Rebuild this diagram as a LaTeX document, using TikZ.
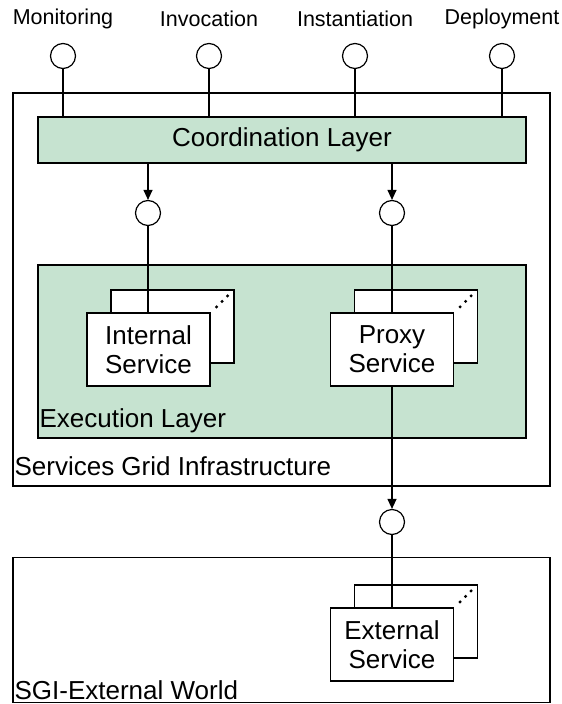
\documentclass[tikz,border=0pt]{standalone}
\usepackage{fontspec}
\setmainfont{Liberation Sans}
\usetikzlibrary{arrows.meta}
\definecolor{layergreen}{RGB}{198,227,208}
\begin{document}
\begin{tikzpicture}[x=1pt,y=-1pt,line width=1.2pt,
    iface/.style={circle, draw, fill=white, minimum size=25pt, inner sep=0pt},
    portlabel/.style={font=\fontsize{21.5}{25}\selectfont},
    layer/.style={rectangle, draw, fill=layergreen, inner sep=0pt},
    frame/.style={rectangle, draw, inner sep=0pt},
    service/.style={rectangle, draw, fill=white, minimum width=123pt, minimum height=73pt,
                    align=center, font=\fontsize{26}{29}\selectfont, inner sep=0pt},
    caption/.style={anchor=west, inner sep=1pt, font=\fontsize{26}{29}\selectfont},
    flow/.style={-{Triangle[length=10pt,width=9pt]}}]
  \useasboundingbox (0,0) rectangle (562,704);

  % outer frames
  \node[frame, minimum width=537pt, minimum height=393pt] (sgi) at (281.5,289.5) {};
  \node[frame, minimum width=537pt, minimum height=145pt] (world) at (281.5,630) {};
  \node[caption] at (13,466) {Services Grid Infrastructure};
  \node[caption] at (13,690) {SGI-External World};

  % layers
  \node[layer, minimum width=488pt, minimum height=46pt, font=\fontsize{26}{29}\selectfont]
    (coord) at (282,140) {Coordination Layer};
  \node[layer, minimum width=488pt, minimum height=173pt] (exec) at (282,351.5) {};
  \node[caption] at (38,421) {Execution Layer};

  % external ports
  \foreach \x/\name/\txt in {63/mon/Monitoring, 209/inv/Invocation,
                             355/inst/Instantiation, 502/dep/Deployment} {
    \node[portlabel] (\name-lbl) at (\x,19) {\txt};
    \node[iface] (\name) at (\x,56) {};
    \draw (\name.south) -- (\name.south |- coord.north);
  }

  % service stacks: back copy, dots, front box
  \foreach \name/\x/\y in {int/148.5/349.5, prx/392/349.5, ext/392/644.5} {
    \node[service] (\name-back) at (\x+24,\y-23) {};
    \foreach \d in {7,12.5,18}
      \fill (\name-back.north east) ++(-\d,\d-0.5) circle (1.7pt);
  }

  % interfaces between coordination and services
  \node[iface] (int-if) at (148,213) {};
  \node[iface] (prx-if) at (392,213) {};
  \node[iface] (ext-if) at (392,522) {};

  \draw[flow] (coord.south -| int-if) -- (int-if.north);
  \draw[flow] (coord.south -| prx-if) -- (prx-if.north);
  \draw (int-if.south) -- (int-if.south |- 0,313);
  \draw (prx-if.south) -- (prx-if.south |- 0,313);
  \draw[flow] (prx-if |- 0,386) -- (ext-if.north);
  \draw (ext-if.south) -- (ext-if.south |- 0,608);

  \node[service] (int) at (148.5,349.5) {Internal\\Service};
  \node[service] (prx) at (392,349.5) {Proxy\\Service};
  \node[service] (ext) at (392,644.5) {External\\Service};
\end{tikzpicture}
\end{document}
